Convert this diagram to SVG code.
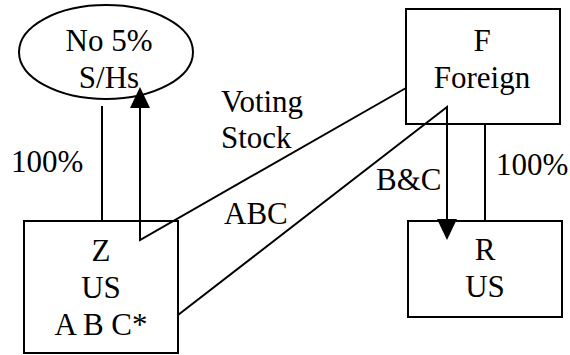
<svg xmlns="http://www.w3.org/2000/svg" width="570" height="355" viewBox="0 0 570 355">
  <style>
    .shape { fill: #fff; stroke: #000; stroke-width: 2; }
    .line { fill: none; stroke: #000; stroke-width: 2; }
    .head { fill: #000; stroke: none; }
    text { font-family: "Liberation Serif", "Times New Roman", serif; font-size: 31px; fill: #000; }
    .c { text-anchor: middle; }
  </style>
  <rect width="570" height="355" fill="#fff"/>
  <g id="node-shs">
    <ellipse class="shape" cx="106" cy="52" rx="87" ry="47"/>
    <text class="c" x="109" y="51">No 5%</text>
    <text class="c" x="109" y="88">S/Hs</text>
  </g>
  <g id="node-f">
    <rect class="shape" x="406" y="9" width="154" height="115"/>
    <text class="c" x="482" y="51">F</text>
    <text class="c" x="482" y="88">Foreign</text>
  </g>
  <g id="node-z">
    <rect class="shape" x="24" y="221" width="154" height="132"/>
    <text class="c" x="101" y="261">Z</text>
    <text class="c" x="101" y="298">US</text>
    <text class="c" x="101" y="335">A B C*</text>
  </g>
  <g id="node-r">
    <rect class="shape" x="408" y="221" width="154" height="96"/>
    <text class="c" x="485" y="260">R</text>
    <text class="c" x="485" y="297">US</text>
  </g>
  <g id="connectors">
    <line class="line" x1="102" y1="106" x2="102" y2="221"/>
    <polyline class="line" points="406,88 140,240 140,106"/>
    <polygon class="head" points="140,87 130,108 150,108"/>
    <polyline class="line" points="178,315 447,107 447,221"/>
    <polygon class="head" points="447,240 437,219 457,219"/>
    <line class="line" x1="485" y1="124" x2="485" y2="221"/>
    <text x="11" y="172">100%</text>
    <text x="221" y="112">Voting</text>
    <text x="221" y="148">Stock</text>
    <text x="224" y="224">ABC</text>
    <text x="376" y="190">B&amp;C</text>
    <text x="496" y="175">100%</text>
  </g>
</svg>
